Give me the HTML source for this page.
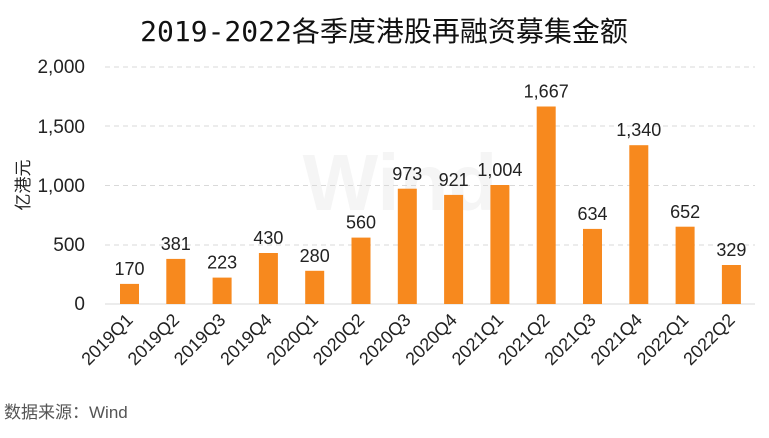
<!DOCTYPE html>
<html><head><meta charset="utf-8"><style>
body{margin:0;background:#fff;width:769px;height:433px;overflow:hidden}
</style></head><body>
<svg width="769" height="433" xmlns="http://www.w3.org/2000/svg" font-family="Liberation Sans, Noto Sans CJK SC, sans-serif">
<text x="384" y="41" text-anchor="middle" font-size="28" font-family="DejaVu Sans Mono, Noto Sans CJK SC, sans-serif" fill="#111">2019-2022各季度港股再融资募集金额</text>
<text x="400" y="210" text-anchor="middle" font-size="80" font-weight="bold" fill="#f5f5f5">Wind</text>
<g stroke="#d9d9d9" stroke-dasharray="5,4" stroke-width="1">
<line x1="105" x2="755" y1="67" y2="67"/><line x1="105" x2="755" y1="126" y2="126"/><line x1="105" x2="755" y1="185.5" y2="185.5"/><line x1="105" x2="755" y1="245" y2="245"/>
</g>
<line x1="105" x2="755" y1="304" y2="304" stroke="#d9d9d9"/>
<g font-size="19" fill="#222" text-anchor="end">
<text x="85" y="73">2,000</text><text x="85" y="133">1,500</text><text x="85" y="192">1,000</text><text x="85" y="251">500</text><text x="85" y="310">0</text>
</g>
<text transform="translate(29,185) rotate(-90)" text-anchor="middle" font-size="17" fill="#222">亿港元</text>
<g fill="#f7891e">
<rect x="120" y="283.9" width="19" height="20.1"/>
<rect x="166.3" y="258.9" width="19" height="45.1"/>
<rect x="212.6" y="277.6" width="19" height="26.4"/>
<rect x="258.9" y="253" width="19" height="51"/>
<rect x="305.2" y="270.8" width="19" height="33.2"/>
<rect x="351.5" y="237.6" width="19" height="66.4"/>
<rect x="397.8" y="188.7" width="19" height="115.3"/>
<rect x="444.1" y="194.9" width="19" height="109.1"/>
<rect x="490.4" y="185" width="19" height="119"/>
<rect x="536.7" y="106.5" width="19" height="197.5"/>
<rect x="583" y="228.9" width="19" height="75.1"/>
<rect x="629.3" y="145.2" width="19" height="158.8"/>
<rect x="675.6" y="226.7" width="19" height="77.3"/>
<rect x="721.9" y="265" width="19" height="39"/>
</g>
<g font-size="18" fill="#222" text-anchor="middle">
<text x="129.5" y="275">170</text>
<text x="175.8" y="250">381</text>
<text x="222.1" y="268.5">223</text>
<text x="268.4" y="244">430</text>
<text x="314.7" y="262">280</text>
<text x="361" y="228.5">560</text>
<text x="407.3" y="180">973</text>
<text x="453.6" y="186">921</text>
<text x="499.9" y="176">1,004</text>
<text x="546.2" y="97.5">1,667</text>
<text x="592.5" y="220">634</text>
<text x="638.8" y="136">1,340</text>
<text x="685.1" y="218">652</text>
<text x="731.4" y="256">329</text>
</g>
<g font-size="18" fill="#222" text-anchor="end">
<text transform="translate(134,321) rotate(-45)">2019Q1</text>
<text transform="translate(180.3,321) rotate(-45)">2019Q2</text>
<text transform="translate(226.6,321) rotate(-45)">2019Q3</text>
<text transform="translate(272.9,321) rotate(-45)">2019Q4</text>
<text transform="translate(319.2,321) rotate(-45)">2020Q1</text>
<text transform="translate(365.5,321) rotate(-45)">2020Q2</text>
<text transform="translate(411.8,321) rotate(-45)">2020Q3</text>
<text transform="translate(458.1,321) rotate(-45)">2020Q4</text>
<text transform="translate(504.4,321) rotate(-45)">2021Q1</text>
<text transform="translate(550.7,321) rotate(-45)">2021Q2</text>
<text transform="translate(597,321) rotate(-45)">2021Q3</text>
<text transform="translate(643.3,321) rotate(-45)">2021Q4</text>
<text transform="translate(689.6,321) rotate(-45)">2022Q1</text>
<text transform="translate(735.9,321) rotate(-45)">2022Q2</text>
</g>
<text x="4" y="418" font-size="17" fill="#555">数据来源：Wind</text>
</svg>
</body></html>
